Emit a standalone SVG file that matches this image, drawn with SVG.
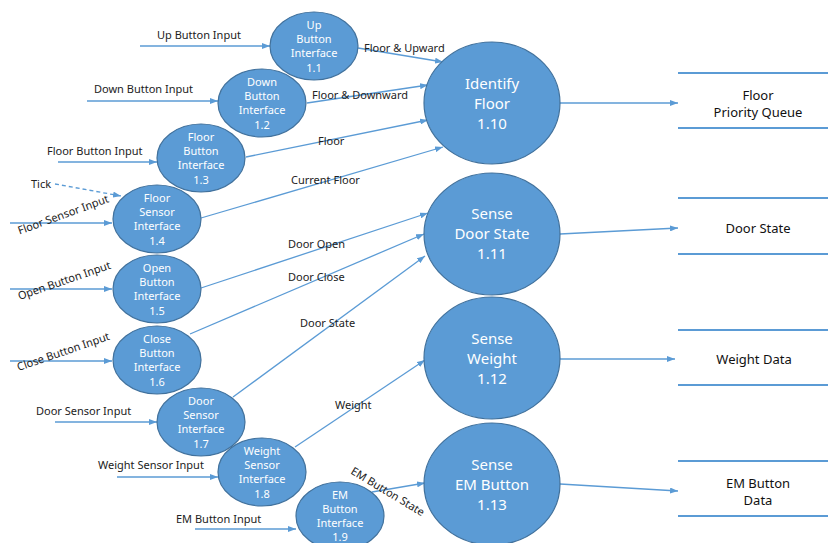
<svg xmlns="http://www.w3.org/2000/svg" width="828" height="543" viewBox="0 0 828 543">
<defs>
<marker id="ah" markerWidth="8" markerHeight="6" refX="8" refY="3" orient="auto" markerUnits="userSpaceOnUse">
<path d="M0,0 L8,3 L0,6 z" fill="#5B9BD5"/>
</marker>
<style>
.p{fill:#5B9BD5;stroke:#41719C;stroke-width:1.2}
.st{fill:#fff;font-family:"Noto Sans","Liberation Sans",sans-serif;font-size:11px;text-anchor:middle}
.bt{fill:#fff;font-family:"Noto Sans","Liberation Sans",sans-serif;font-size:15px;text-anchor:middle}
.lb{fill:#222;font-family:"Noto Sans","Liberation Sans",sans-serif;font-size:11px}
.ds{fill:#111;font-family:"Noto Sans","Liberation Sans",sans-serif;font-size:13px;text-anchor:middle}
.c{stroke:#5B9BD5;stroke-width:1.3;fill:none;marker-end:url(#ah)}
.sl{stroke:#5B9BD5;stroke-width:2.2}
</style>
</defs>
<rect width="828" height="543" fill="#fff"/>

<g id="connectors">
<line class="c" x1="140" y1="46" x2="270" y2="46"/>
<line class="c" x1="87" y1="101" x2="218" y2="101"/>
<line class="c" x1="58" y1="162" x2="157" y2="162"/>
<line class="c" x1="10" y1="223" x2="112" y2="223"/>
<line class="c" x1="55" y1="184" x2="121" y2="196" stroke-dasharray="4,3"/>
<line class="c" x1="10" y1="289" x2="112" y2="289"/>
<line class="c" x1="10" y1="361" x2="112" y2="361"/>
<line class="c" x1="55" y1="422" x2="157" y2="422"/>
<line class="c" x1="117" y1="477" x2="218" y2="477"/>
<line class="c" x1="195" y1="529" x2="296" y2="529"/>

<line class="c" x1="358" y1="48" x2="443" y2="62"/>
<line class="c" x1="307" y1="103" x2="428" y2="85"/>
<line class="c" x1="246" y1="157" x2="428" y2="120"/>
<line class="c" x1="201" y1="218" x2="443" y2="147"/>
<line class="c" x1="201" y1="288" x2="428" y2="213"/>
<line class="c" x1="190" y1="334" x2="424" y2="234"/>
<line class="c" x1="233" y1="397" x2="425" y2="256"/>
<line class="c" x1="295" y1="447" x2="425" y2="360"/>
<line class="c" x1="372" y1="492" x2="425" y2="483"/>

<line class="c" x1="560" y1="103" x2="678" y2="103"/>
<line class="c" x1="560" y1="234" x2="678" y2="228"/>
<line class="c" x1="560" y1="359" x2="675" y2="359"/>
<line class="c" x1="560" y1="484" x2="678" y2="491"/>

<text class="lb" x="157" y="39">Up Button Input</text>
<text class="lb" x="94" y="93">Down Button Input</text>
<text class="lb" x="47" y="155">Floor Button Input</text>
<text class="lb" x="31" y="188">Tick</text>
<text class="lb" text-anchor="middle" dominant-baseline="central" transform="translate(63,214) rotate(-20)">Floor Sensor Input</text>
<text class="lb" text-anchor="middle" dominant-baseline="central" transform="translate(64,280) rotate(-19)">Open Button Input</text>
<text class="lb" text-anchor="middle" dominant-baseline="central" transform="translate(63,351) rotate(-19)">Close Button Input</text>
<text class="lb" x="36" y="415">Door Sensor Input</text>
<text class="lb" x="98" y="469">Weight Sensor Input</text>
<text class="lb" x="176" y="523">EM Button Input</text>

<text class="lb" x="364" y="52">Floor &amp; Upward</text>
<text class="lb" x="312" y="99">Floor &amp; Downward</text>
<text class="lb" x="318" y="145">Floor</text>
<text class="lb" x="291" y="184">Current Floor</text>
<text class="lb" x="288" y="248">Door Open</text>
<text class="lb" x="288" y="281">Door Close</text>
<text class="lb" x="300" y="327">Door State</text>
<text class="lb" x="335" y="409">Weight</text>
<text class="lb" text-anchor="middle" dominant-baseline="central" transform="translate(388,491) rotate(31)">EM Button State</text>
</g>

<g id="n1_1"><ellipse class="p" cx="314" cy="46" rx="44" ry="34"/>
<text class="st" x="314" y="29">Up</text><text class="st" x="314" y="43">Button</text><text class="st" x="314" y="57">Interface</text><text class="st" x="314" y="72">1.1</text></g>
<g id="n1_2"><ellipse class="p" cx="262" cy="103" rx="44" ry="34"/>
<text class="st" x="262" y="86">Down</text><text class="st" x="262" y="100">Button</text><text class="st" x="262" y="114">Interface</text><text class="st" x="262" y="129">1.2</text></g>
<g id="n1_3"><ellipse class="p" cx="201" cy="158" rx="44" ry="34"/>
<text class="st" x="201" y="141">Floor</text><text class="st" x="201" y="155">Button</text><text class="st" x="201" y="169">Interface</text><text class="st" x="201" y="184">1.3</text></g>
<g id="n1_4"><ellipse class="p" cx="157" cy="219" rx="44" ry="34"/>
<text class="st" x="157" y="202">Floor</text><text class="st" x="157" y="216">Sensor</text><text class="st" x="157" y="230">Interface</text><text class="st" x="157" y="245">1.4</text></g>
<g id="n1_5"><ellipse class="p" cx="157" cy="289" rx="44" ry="34"/>
<text class="st" x="157" y="272">Open</text><text class="st" x="157" y="286">Button</text><text class="st" x="157" y="300">Interface</text><text class="st" x="157" y="315">1.5</text></g>
<g id="n1_6"><ellipse class="p" cx="157" cy="360" rx="44" ry="34"/>
<text class="st" x="157" y="343">Close</text><text class="st" x="157" y="357">Button</text><text class="st" x="157" y="371">Interface</text><text class="st" x="157" y="386">1.6</text></g>
<g id="n1_7"><ellipse class="p" cx="201" cy="422" rx="44" ry="34"/>
<text class="st" x="201" y="405">Door</text><text class="st" x="201" y="419">Sensor</text><text class="st" x="201" y="433">Interface</text><text class="st" x="201" y="448">1.7</text></g>
<g id="n1_8"><ellipse class="p" cx="262" cy="472" rx="44" ry="34"/>
<text class="st" x="262" y="455">Weight</text><text class="st" x="262" y="469">Sensor</text><text class="st" x="262" y="483">Interface</text><text class="st" x="262" y="498">1.8</text></g>
<g id="n1_9"><ellipse class="p" cx="340" cy="516" rx="44" ry="34"/>
<text class="st" x="340" y="499">EM</text><text class="st" x="340" y="513">Button</text><text class="st" x="340" y="527">Interface</text><text class="st" x="340" y="541">1.9</text></g>

<g id="n1_10"><ellipse class="p" cx="492" cy="103" rx="68" ry="61"/>
<text class="bt" x="492" y="89">Identify</text><text class="bt" x="492" y="109">Floor</text><text class="bt" x="492" y="129">1.10</text></g>
<g id="n1_11"><ellipse class="p" cx="492" cy="234" rx="68" ry="61"/>
<text class="bt" x="492" y="219">Sense</text><text class="bt" x="492" y="239">Door State</text><text class="bt" x="492" y="259">1.11</text></g>
<g id="n1_12"><ellipse class="p" cx="492" cy="358" rx="68" ry="61"/>
<text class="bt" x="492" y="344">Sense</text><text class="bt" x="492" y="364">Weight</text><text class="bt" x="492" y="384">1.12</text></g>
<g id="n1_13"><ellipse class="p" cx="492" cy="484" rx="68" ry="61"/>
<text class="bt" x="492" y="470">Sense</text><text class="bt" x="492" y="490">EM Button</text><text class="bt" x="492" y="510">1.13</text></g>

<g id="store_floor"><line class="sl" x1="678" y1="73" x2="828" y2="73"/><line class="sl" x1="678" y1="128" x2="828" y2="128"/>
<text class="ds" x="758" y="100">Floor</text><text class="ds" x="758" y="117">Priority Queue</text></g>
<g id="store_door"><line class="sl" x1="678" y1="198" x2="828" y2="198"/><line class="sl" x1="678" y1="254" x2="828" y2="254"/>
<text class="ds" x="758" y="233">Door State</text></g>
<g id="store_weight"><line class="sl" x1="678" y1="330" x2="828" y2="330"/><line class="sl" x1="678" y1="385" x2="828" y2="385"/>
<text class="ds" x="754" y="364">Weight Data</text></g>
<g id="store_em"><line class="sl" x1="678" y1="461" x2="828" y2="461"/><line class="sl" x1="678" y1="516" x2="828" y2="516"/>
<text class="ds" x="758" y="488">EM Button</text><text class="ds" x="758" y="505">Data</text></g>
</svg>
